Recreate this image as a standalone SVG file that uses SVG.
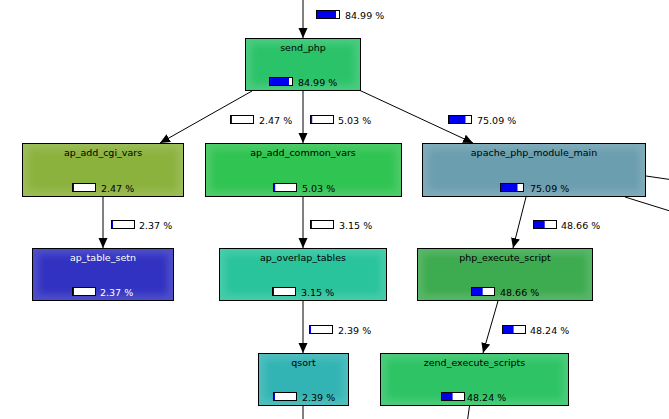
<svg xmlns="http://www.w3.org/2000/svg" width="669" height="419" viewBox="0 0 669 419">
  <defs>
    <!-- soft lighter rim inside each node fill -->
    <filter id="rim" x="0" y="0" width="1" height="1" color-interpolation-filters="sRGB">
      <feMorphology in="SourceAlpha" operator="erode" radius="6" result="core"/>
      <feGaussianBlur in="core" stdDeviation="3.5" result="soft"/>
      <feComposite in="SourceAlpha" in2="soft" operator="out" result="edge"/>
      <feFlood flood-color="#ffffff" flood-opacity="0.14"/>
      <feComposite in2="edge" operator="in" result="glow"/>
      <feMerge>
        <feMergeNode in="SourceGraphic"/>
        <feMergeNode in="glow"/>
      </feMerge>
    </filter>
    <marker id="arrow" markerUnits="userSpaceOnUse" markerWidth="10" markerHeight="10" refX="10" refY="5" orient="auto" viewBox="0 0 10 10">
      <path d="M0,0.5 L10,5 L0,9.5 z" fill="#000"/>
    </marker>
  </defs>
  <style>
    text { font-family: "DejaVu Sans", Verdana, sans-serif; font-size: 9.5px; fill: #000; }
    .title { text-anchor: middle; }
    .light text { fill: #fff; }
    .bg { filter: url(#rim); }
    .frame { fill: none; stroke: #000; stroke-width: 1; }
    .edge { fill: none; stroke: #000; stroke-width: 1; }
    .bar { fill: #fff; stroke: #000; stroke-width: 1; }
    .lvl { fill: #0000f0; }
  </style>

  <rect width="669" height="419" fill="#fff"/>

  <!-- connectors -->
  <g id="edges">
    <line class="edge" x1="303" y1="0" x2="303" y2="38" marker-end="url(#arrow)"/>
    <line class="edge" x1="252" y1="91" x2="160" y2="143" marker-end="url(#arrow)"/>
    <line class="edge" x1="303" y1="91" x2="303" y2="143" marker-end="url(#arrow)"/>
    <line class="edge" x1="359" y1="90" x2="473" y2="143" marker-end="url(#arrow)"/>
    <line class="edge" x1="103" y1="197" x2="103" y2="248" marker-end="url(#arrow)"/>
    <line class="edge" x1="303" y1="197" x2="303" y2="248" marker-end="url(#arrow)"/>
    <line class="edge" x1="526" y1="197" x2="513" y2="248" marker-end="url(#arrow)"/>
    <line class="edge" x1="303" y1="301" x2="303" y2="353" marker-end="url(#arrow)"/>
    <line class="edge" x1="498" y1="301" x2="483" y2="353" marker-end="url(#arrow)"/>
    <line class="edge" x1="303" y1="406" x2="303" y2="420"/>
    <line class="edge" x1="469.5" y1="406" x2="467.5" y2="420"/>
    <line class="edge" x1="646" y1="176" x2="670" y2="179.5"/>
    <line class="edge" x1="625" y1="197" x2="670" y2="211"/>

    <!-- edge weights -->
    <g id="w-top"><rect class="bar" x="316.5" y="10.5" width="23" height="8"/><rect class="lvl" x="317" y="11" width="19" height="7"/><text x="345" y="19">84.99 %</text></g>
    <g id="w-cgi"><rect class="bar" x="230.5" y="115.5" width="23" height="8"/><rect class="lvl" x="231" y="116" width="1" height="7"/><text x="259" y="124">2.47 %</text></g>
    <g id="w-common"><rect class="bar" x="310.5" y="115.5" width="23" height="8"/><rect class="lvl" x="311" y="116" width="1.2" height="7"/><text x="338" y="124">5.03 %</text></g>
    <g id="w-apache"><rect class="bar" x="448.5" y="115.5" width="23" height="8"/><rect class="lvl" x="449" y="116" width="16.5" height="7"/><text x="477" y="124">75.09 %</text></g>
    <g id="w-setn"><rect class="bar" x="111.5" y="220.5" width="23" height="8"/><rect class="lvl" x="112" y="221" width="1" height="7"/><text x="139" y="229">2.37 %</text></g>
    <g id="w-overlap"><rect class="bar" x="310.5" y="220.5" width="23" height="8"/><rect class="lvl" x="311" y="221" width="1" height="7"/><text x="339" y="229">3.15 %</text></g>
    <g id="w-exec"><rect class="bar" x="533.5" y="220.5" width="23" height="8"/><rect class="lvl" x="534" y="221" width="10.7" height="7"/><text x="561" y="229">48.66 %</text></g>
    <g id="w-qsort"><rect class="bar" x="309.5" y="325.5" width="23" height="8"/><rect class="lvl" x="310" y="326" width="1" height="7"/><text x="338" y="334">2.39 %</text></g>
    <g id="w-zend"><rect class="bar" x="502.5" y="325.5" width="23" height="8"/><rect class="lvl" x="503" y="326" width="10.6" height="7"/><text x="530" y="334">48.24 %</text></g>
  </g>

  <!-- nodes -->
  <g id="send_php">
    <rect class="bg" x="245.5" y="38.5" width="115" height="52" fill="#2bc36a"/>
    <rect class="frame" x="245.5" y="38.5" width="115" height="52"/>
    <text class="title" x="303" y="51">send_php</text>
    <rect class="bar" x="269.5" y="77.5" width="23" height="8"/><rect class="lvl" x="270" y="78" width="19" height="7"/>
    <text x="298" y="86">84.99 %</text>
  </g>

  <g id="ap_add_cgi_vars">
    <rect class="bg" x="22.5" y="143.5" width="161" height="53" fill="#8cb23e"/>
    <rect class="frame" x="22.5" y="143.5" width="161" height="53"/>
    <text class="title" x="103" y="156">ap_add_cgi_vars</text>
    <rect class="bar" x="72.5" y="183.5" width="23" height="8"/><rect class="lvl" x="73" y="184" width="1" height="7"/>
    <text x="101" y="192">2.47 %</text>
  </g>

  <g id="ap_add_common_vars">
    <rect class="bg" x="205.5" y="143.5" width="196" height="53" fill="#30c452"/>
    <rect class="frame" x="205.5" y="143.5" width="196" height="53"/>
    <text class="title" x="303" y="156">ap_add_common_vars</text>
    <rect class="bar" x="273.5" y="183.5" width="23" height="8"/><rect class="lvl" x="274" y="184" width="1.2" height="7"/>
    <text x="302" y="192">5.03 %</text>
  </g>

  <g id="apache_php_module_main">
    <rect class="bg" x="422.5" y="143.5" width="223" height="53" fill="#6b9eaf"/>
    <rect class="frame" x="422.5" y="143.5" width="223" height="53"/>
    <text class="title" x="534" y="156">apache_php_module_main</text>
    <rect class="bar" x="500.5" y="183.5" width="23" height="8"/><rect class="lvl" x="501" y="184" width="16.5" height="7"/>
    <text x="530" y="192">75.09 %</text>
  </g>

  <g id="ap_table_setn" class="light">
    <rect class="bg" x="32.5" y="248.5" width="141" height="52" fill="#3232c2"/>
    <rect class="frame" x="32.5" y="248.5" width="141" height="52"/>
    <text class="title" x="103" y="261">ap_table_setn</text>
    <rect class="bar" x="72.5" y="287.5" width="23" height="8"/><rect class="lvl" x="73" y="288" width="1" height="7"/>
    <text x="100" y="296">2.37 %</text>
  </g>

  <g id="ap_overlap_tables">
    <rect class="bg" x="219.5" y="248.5" width="167" height="52" fill="#29c49c"/>
    <rect class="frame" x="219.5" y="248.5" width="167" height="52"/>
    <text class="title" x="303" y="261">ap_overlap_tables</text>
    <rect class="bar" x="272.5" y="287.5" width="23" height="8"/><rect class="lvl" x="273" y="288" width="1" height="7"/>
    <text x="301" y="296">3.15 %</text>
  </g>

  <g id="php_execute_script">
    <rect class="bg" x="417.5" y="248.5" width="175" height="52" fill="#3dab4f"/>
    <rect class="frame" x="417.5" y="248.5" width="175" height="52"/>
    <text class="title" x="505" y="261">php_execute_script</text>
    <rect class="bar" x="471.5" y="287.5" width="23" height="8"/><rect class="lvl" x="472" y="288" width="10.7" height="7"/>
    <text x="500" y="296">48.66 %</text>
  </g>

  <g id="qsort">
    <rect class="bg" x="258.5" y="353.5" width="90" height="52" fill="#33b4b4"/>
    <rect class="frame" x="258.5" y="353.5" width="90" height="52"/>
    <text class="title" x="303.5" y="366">qsort</text>
    <rect class="bar" x="273.5" y="392.5" width="23" height="8"/><rect class="lvl" x="274" y="393" width="1" height="7"/>
    <text x="302" y="401">2.39 %</text>
  </g>

  <g id="zend_execute_scripts">
    <rect class="bg" x="380.5" y="353.5" width="188" height="52" fill="#2ec465"/>
    <rect class="frame" x="380.5" y="353.5" width="188" height="52"/>
    <text class="title" x="474.5" y="366">zend_execute_scripts</text>
    <rect class="bar" x="441.5" y="392.5" width="23" height="8"/><rect class="lvl" x="442" y="393" width="10.6" height="7"/>
    <text x="467" y="401">48.24 %</text>
  </g>
</svg>
